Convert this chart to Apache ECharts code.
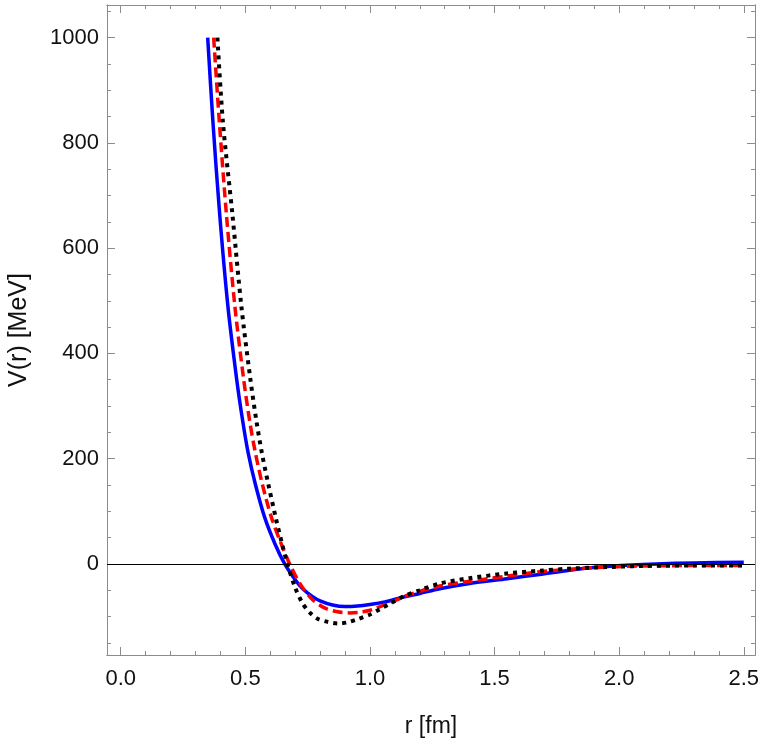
<!DOCTYPE html>
<html lang="en">
<head>
    <meta charset="UTF-8">
    <title>V(r)</title>
    <script type="text/javascript" src="https://cdn.jsdelivr.net/npm/echarts@6/dist/echarts.min.js"></script>
    <style>
        html, body {
            margin: 0;
            padding: 0;
            background: #fff;
        }

        #container {
            width: 763px;
            height: 740px;
        }
    </style>
</head>
<body>
<div id="container"></div>
</body>
<script>
    // curve samples
    const rBlue = [0.349, 0.37, 0.397, 0.43, 0.465, 0.49, 0.511, 0.54, 0.578, 0.62, 0.658, 0.7, 0.73, 0.77, 0.8, 0.85,
        0.9, 0.95, 1.0, 1.06, 1.133, 1.2, 1.28, 1.4, 1.55, 1.68, 1.8, 1.92, 2.05, 2.15, 2.3, 2.5];
    const vBlue = [1000, 840, 665, 490, 352, 270, 212, 152, 88, 37, 0, -30, -47, -62, -70, -78,
        -81, -80, -77, -72, -63, -56, -47, -37, -28, -20, -12, -6, -2, 0, 2, 3];

    const rRed = [0.373, 0.395, 0.424, 0.458, 0.493, 0.518, 0.54, 0.568, 0.605, 0.645, 0.678, 0.72, 0.77, 0.82, 0.87,
        0.92, 0.97, 1.0, 1.08, 1.16, 1.28, 1.4, 1.55, 1.68, 1.8, 1.95, 2.08, 2.3, 2.5];
    const vRed = [1000, 845, 665, 490, 352, 270, 212, 152, 88, 37, 0, -38, -68, -84, -91,
        -93, -91, -88, -74, -58, -42, -33, -23, -15, -10, -6, -4, -3, -3];

    const rBlack = [0.388, 0.41, 0.448, 0.484, 0.52, 0.545, 0.566, 0.592, 0.622, 0.648, 0.669, 0.7, 0.73, 0.76, 0.79,
        0.83, 0.872, 0.91, 0.95, 1.0, 1.04, 1.09, 1.133, 1.2, 1.28, 1.4, 1.55, 1.68, 1.8, 1.95, 2.08, 2.3, 2.5];
    const vBlack = [1000, 840, 665, 490, 352, 270, 212, 152, 88, 37, 0, -45, -75, -93, -104,
        -110, -113, -111, -105, -96, -86, -73, -62, -50, -37, -27, -18, -13, -9, -6, -4, -3, -3];

    const xMajor = [0, 0.5, 1.0, 1.5, 2.0, 2.5];
    const xMinor = [0.1, 0.2, 0.3, 0.4, 0.6, 0.7, 0.8, 0.9, 1.1, 1.2, 1.3, 1.4, 1.6, 1.7, 1.8, 1.9, 2.1, 2.2, 2.3, 2.4];
    const yMajor = [0, 200, 400, 600, 800, 1000];
    const yMinor = [-150, -100, -50, 50, 100, 150, 250, 300, 350, 450, 500, 550, 650, 700, 750, 850, 900, 950, 1050];

    const xMin = -0.055, xMax = 2.545;
    const yMin = -173, yMax = 1062;

    const frameColor = '#8c8c8c';
    const font = '"Liberation Sans", Arial, sans-serif';

    const zip = (xs, ys) => xs.map((x, i) => [x, ys[i]]);

    function xAxisDef(position, ticks, len, labels, extra) {
        return Object.assign({
            type: 'value',
            position: position,
            min: xMin,
            max: xMax,
            axisLine: {show: true, onZero: false, lineStyle: {color: frameColor, width: 1}},
            axisTick: {show: true, inside: true, length: len, customValues: ticks, lineStyle: {color: frameColor}},
            axisLabel: labels ? {
                show: true, customValues: ticks, margin: 13, color: '#111', fontSize: 22, fontFamily: font,
                formatter: v => v.toFixed(1)
            } : {show: false},
            splitLine: {show: false}
        }, extra || {});
    }

    function yAxisDef(position, ticks, len, labels, extra) {
        return Object.assign({
            type: 'value',
            position: position,
            min: yMin,
            max: yMax,
            axisLine: {show: true, onZero: false, lineStyle: {color: frameColor, width: 1}},
            axisTick: {show: true, inside: true, length: len, customValues: ticks, lineStyle: {color: frameColor}},
            axisLabel: labels ? {
                show: true, customValues: ticks, margin: 8, color: '#111', fontSize: 22, fontFamily: font,
                formatter: v => String(v)
            } : {show: false},
            splitLine: {show: false}
        }, extra || {});
    }

    const container = document.getElementById('container');
    const myChart = echarts.init(container, null, {renderer: 'canvas'});

    let option = {
        animation: false,
        grid: {left: 107, right: 8, top: 5, bottom: 85, containLabel: false, outerBoundsMode: 'none'},
        xAxis: [
            xAxisDef('bottom', xMajor, 8, true, {
                name: 'r [fm]', nameLocation: 'middle', nameGap: 60,
                nameTextStyle: {color: '#111', fontSize: 23, fontFamily: font}
            }),
            xAxisDef('bottom', xMinor, 4, false),
            xAxisDef('top', xMajor, 8, false),
            xAxisDef('top', xMinor, 4, false)
        ],
        yAxis: [
            yAxisDef('left', yMajor, 8, true, {
                name: 'V(r) [MeV]', nameLocation: 'middle', nameGap: 75, nameRotate: 90,
                nameTextStyle: {color: '#111', fontSize: 25, fontFamily: font}
            }),
            yAxisDef('left', yMinor, 4, false),
            yAxisDef('right', yMajor, 8, false),
            yAxisDef('right', yMinor, 4, false)
        ],
        series: [
            {
                type: 'line',
                data: zip(rBlue, vBlue),
                smooth: 0.3,
                showSymbol: false,
                lineStyle: {color: '#0000ff', width: 3.5},
                markLine: {
                    silent: true,
                    symbol: 'none',
                    label: {show: false},
                    lineStyle: {color: '#000', width: 1, type: 'solid'},
                    data: [{yAxis: 0}]
                }
            },
            {
                type: 'line',
                data: zip(rRed, vRed),
                smooth: 0.3,
                showSymbol: false,
                lineStyle: {color: '#ff0000', width: 3.5, type: [10, 5]}
            },
            {
                type: 'line',
                data: zip(rBlack, vBlack),
                smooth: 0.3,
                showSymbol: false,
                lineStyle: {color: '#000000', width: 4, type: [4, 5]}
            }
        ]
    };
    myChart.setOption(option);

    window.onresize = myChart.resize;
</script>
</html>
